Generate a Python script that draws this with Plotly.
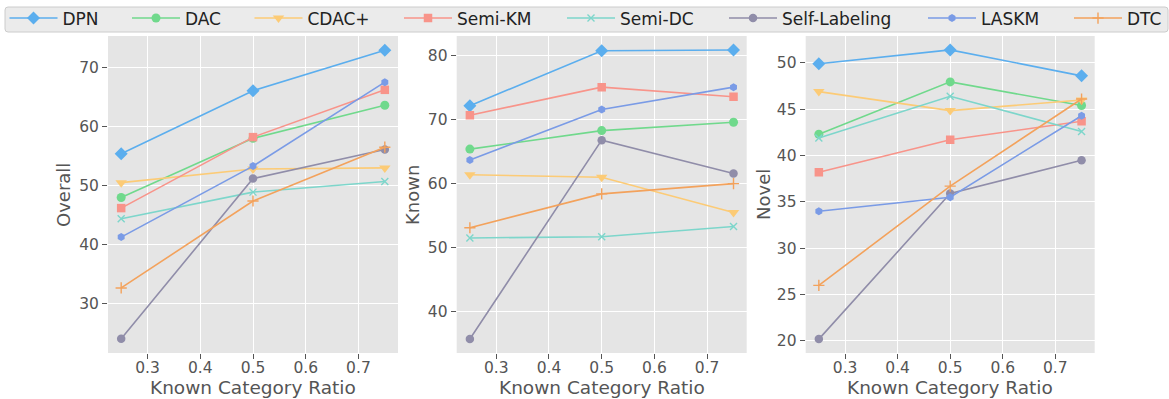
import plotly.graph_objects as go

ratios = [0.25, 0.5, 0.75]
methods = ["DPN", "DAC", "CDAC+", "Semi-KM", "Semi-DC", "Self-Labeling", "LASKM", "DTC"]

overall = {
    "DPN": [55.4, 66.05, 72.9],
    "DAC": [48.0, 58.0, 63.6],
    "CDAC+": [50.5, 52.8, 53.0],
    "Semi-KM": [46.2, 58.2, 66.2],
    "Semi-DC": [44.4, 48.9, 50.7],
    "Self-Labeling": [24.1, 51.2, 56.1],
    "LASKM": [41.3, 53.3, 67.5],
    "DTC": [32.7, 47.4, 56.5],
}
known = {
    "DPN": [72.2, 80.8, 80.9],
    "DAC": [65.4, 68.3, 69.6],
    "CDAC+": [61.4, 61.0, 55.5],
    "Semi-KM": [70.7, 75.1, 73.6],
    "Semi-DC": [51.5, 51.7, 53.3],
    "Self-Labeling": [35.7, 66.8, 61.6],
    "LASKM": [63.7, 71.6, 75.1],
    "DTC": [53.1, 58.4, 60.0],
}
novel = {
    "DPN": [49.9, 51.4, 48.6],
    "DAC": [42.3, 47.95, 45.4],
    "CDAC+": [46.9, 44.85, 46.0],
    "Semi-KM": [38.2, 41.7, 43.7],
    "Semi-DC": [41.9, 46.4, 42.6],
    "Self-Labeling": [20.2, 35.9, 39.5],
    "LASKM": [34.0, 35.5, 44.3],
    "DTC": [26.0, 36.7, 46.1],
}
x_ticks = [0.3, 0.4, 0.5, 0.6, 0.7]
y_titles = ["Overall", "Known", "Novel"]
x_title = "Known Category Ratio"

colors = {
    "DPN": "#5BAEEE",
    "DAC": "#70D98C",
    "CDAC+": "#FCCB76",
    "Semi-KM": "#F8948A",
    "Semi-DC": "#7DD6CB",
    "Self-Labeling": "#908DA9",
    "LASKM": "#7A9BE6",
    "DTC": "#F3A25C",
}
symbols = {
    "DPN": ("diamond", 10),
    "DAC": ("circle", 9),
    "CDAC+": ("triangle-down", 10),
    "Semi-KM": ("square", 8.5),
    "Semi-DC": ("x-thin-open", 7),
    "Self-Labeling": ("circle", 8.5),
    "LASKM": ("hexagon", 8),
    "DTC": ("cross-thin-open", 8),
}

W, H = 1169, 399
FONT = "DejaVu Sans"
TXT = "#555555"

# panel pixel boxes (left, right), shared top/bottom
panels_px = [(108, 398), (456.7, 746.7), (805.7, 1094.7)]
top_px, bot_px = 36, 353
y_ranges = [[21.7, 75.3], [33.5, 83.1], [18.7, 52.9]]
datasets = [overall, known, novel]

fig = go.Figure()

# legend positions (px of item start)
legend_x_px = [9.5, 132, 254.5, 404, 567, 729, 928, 1074]

for p, data in enumerate(datasets):
    xa = "x" if p == 0 else f"x{p+1}"
    ya = "y" if p == 0 else f"y{p+1}"
    for i, m in enumerate(methods):
        sym, sz = symbols[m]
        thin = "thin" in sym
        lg = "legend" if i == 0 else f"legend{i+1}"
        fig.add_trace(go.Scatter(
            x=ratios, y=data[m], name=m, mode="lines+markers",
            xaxis=xa, yaxis=ya,
            line=dict(color=colors[m], width=1.6),
            marker=dict(symbol=sym, size=sz, color=colors[m],
                        line=dict(color=colors[m], width=1.4 if thin else 0)),
            showlegend=(p == 0), legend=lg,
        ))

layout = dict(
    width=W, height=H,
    margin=dict(l=0, r=0, t=0, b=0),
    paper_bgcolor="white",
    plot_bgcolor="#E5E5E5",
    font=dict(family=FONT, color=TXT, size=15),
    annotations=[],
    shapes=[],
)

for p, (l, r) in enumerate(panels_px):
    sx = "" if p == 0 else str(p + 1)
    layout[f"xaxis{sx}"] = dict(
        domain=[l / W, r / W], range=[0.225, 0.775], anchor=f"y{sx}",
        tickvals=x_ticks, ticktext=[f"{v:.1f}" for v in x_ticks],
        ticks="outside", ticklen=5, tickcolor=TXT, tickwidth=1,
        ticklabelstandoff=-5,
        gridcolor="white", gridwidth=1.1, zeroline=False, showline=False,
        tickfont=dict(family=FONT, size=15.5, color=TXT),
    )
    layout[f"yaxis{sx}"] = dict(
        domain=[1 - bot_px / H, 1 - top_px / H], range=y_ranges[p], anchor=f"x{sx}",
        dtick=10 if p < 2 else 5,
        ticks="outside", ticklen=5, tickcolor=TXT, tickwidth=1,
        gridcolor="white", gridwidth=1.1, zeroline=False, showline=False,
        tickfont=dict(family=FONT, size=15.5, color=TXT),
    )
    cx = (l + r) / 2
    layout["annotations"].append(dict(
        text=x_title, xref="paper", yref="paper", x=cx / W, y=1 - 387 / H,
        xanchor="center", yanchor="middle", showarrow=False,
        font=dict(family=FONT, size=18.5, color=TXT)))

ytitle_x = [63, 412, 763]
for p, t in enumerate(y_titles):
    layout["annotations"].append(dict(
        text=t, xref="paper", yref="paper", x=ytitle_x[p] / W, y=1 - 195 / H,
        xanchor="center", yanchor="middle", showarrow=False, textangle=-90,
        font=dict(family=FONT, size=18, color=TXT)))

# legend frame
x0, x1, y0, y1, rr = 5, 1168, 7, 32, 3
def px(x):
    return x / W
def py(y):
    return 1 - y / H
path = (f"M {px(x0+rr)} {py(y0)} L {px(x1-rr)} {py(y0)} Q {px(x1)} {py(y0)} {px(x1)} {py(y0+rr)} "
        f"L {px(x1)} {py(y1-rr)} Q {px(x1)} {py(y1)} {px(x1-rr)} {py(y1)} "
        f"L {px(x0+rr)} {py(y1)} Q {px(x0)} {py(y1)} {px(x0)} {py(y1-rr)} "
        f"L {px(x0)} {py(y0+rr)} Q {px(x0)} {py(y0)} {px(x0+rr)} {py(y0)} Z")
layout["shapes"].append(dict(type="path", path=path, xref="paper", yref="paper",
                             fillcolor="#EBEBEB", line=dict(color="#CCCCCC", width=1), layer="below"))

for i, xp in enumerate(legend_x_px):
    key = "legend" if i == 0 else f"legend{i+1}"
    layout[key] = dict(
        x=(xp - 5) / W, y=1 - 18.5 / H, xanchor="left", yanchor="middle",
        orientation="h", bgcolor="rgba(0,0,0,0)", borderwidth=0,
        font=dict(family=FONT, size=17, color="#222222"),
        itemwidth=48,
    )

fig.update_layout(**layout)
fig.write_html("out.html", config={"displayModeBar": False},
               post_script="document.body.style.margin='0';")
